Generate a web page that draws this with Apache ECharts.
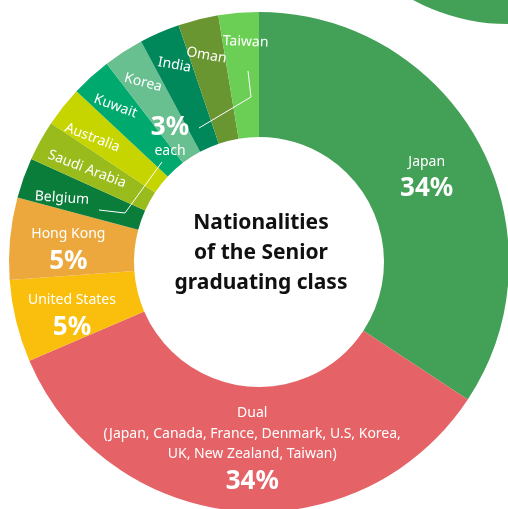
<!DOCTYPE html>
<html>
<head>
<meta charset="utf-8">
<script src="https://cdn.jsdelivr.net/npm/echarts@6/dist/echarts.min.js"></script>
<style>
  html, body { margin: 0; padding: 0; background: #fff; }
  #chart { width: 508px; height: 509px; }
</style>
</head>
<body>
<div id="chart"></div>
<script>
// Data (share of class, %; clockwise from 12 o'clock)
const categories = ['Japan', 'Dual', 'United States', 'Hong Kong', 'Belgium', 'Saudi Arabia',
                    'Australia', 'Kuwait', 'Korea', 'India', 'Oman', 'Taiwan'];
const shares = [34.2, 34.2, 5.3, 5.3, 2.6, 2.6, 2.6, 2.6, 2.6, 2.6, 2.6, 2.6];
const shareLabels = ['34%', '34%', '5%', '5%', '3%', '3%', '3%', '3%', '3%', '3%', '3%', '3%'];
const colors = ['#43a057', '#e56266', '#f9bf0c', '#eca83c', '#0b7d3b', '#99bb1c',
                '#c6d500', '#00a96e', '#68bf90', '#00875a', '#6a9632', '#6ccf55'];
const dualDetail = ['(Japan, Canada, France, Denmark, U.S, Korea,', 'UK, New Zealand, Taiwan)'];
const smallRotate = { 'Belgium': -4, 'Saudi Arabia': -21, 'Australia': -21, 'Kuwait': -20,
                      'Korea': -15, 'India': -10, 'Oman': -10, 'Taiwan': -2 };
const titleLines = ['Nationalities', 'of the Senior', 'graduating class'];

// label nudges (styling only)
const labelNudge = { 'Japan': [0, 7], 'Dual': [10, -1], 'United States': [-2, 10], 'Hong Kong': [-1, 7],
                     'Belgium': [6, 8], 'Saudi Arabia': [19, 5], 'Australia': [5, 8],
                     'Kuwait': [2, 3], 'Korea': [1, 1], 'India': [1, 0], 'Oman': [0, 2], 'Taiwan': [4, -6] };

const FONT = 'Noto Sans';
const chart = echarts.init(document.getElementById('chart'), null, { renderer: 'canvas' });

const bigData = categories.map((c, i) => {
  const big = shareLabels[i] !== '3%';
  let fmt = '';
  if (big) {
    fmt = '{n|' + c + '}\n';
    if (c === 'Dual') fmt += dualDetail.map(s => '{n|' + s + '}').join('\n') + '\n';
    fmt += '{p|' + shareLabels[i] + '}';
  }
  return {
    name: c, value: shares[i],
    itemStyle: { color: colors[i] },
    label: { show: big, formatter: fmt, offset: labelNudge[c] || [0, 0] }
  };
});

const smallData = categories.map((c, i) => {
  const small = shareLabels[i] === '3%';
  return {
    name: c, value: shares[i],
    itemStyle: { color: 'rgba(0,0,0,0)' },
    label: { show: small, rotate: smallRotate[c] || 0, offset: labelNudge[c] || [0, 0] }
  };
});

chart.setOption({
  animation: false,
  graphic: [
    { type: 'circle', shape: { cx: 508, cy: -176, r: 200 }, style: { fill: '#43a057' }, z: 0 },
    { type: 'text', x: 261, y: 253, z: 10,
      style: { text: titleLines.join('\n'), font: 'bold 21px "' + FONT + '"', fill: '#111',
               textAlign: 'center', textVerticalAlign: 'middle', lineHeight: 30 } },
    { type: 'text', x: 170, y: 128, z: 10,
      style: { text: '3%', font: 'bold 26px "' + FONT + '"', fill: '#fff',
               textAlign: 'center', textVerticalAlign: 'middle' } },
    { type: 'text', x: 170, y: 151, z: 10,
      style: { text: 'each', font: '14px "' + FONT + '"', fill: '#fff',
               textAlign: 'center', textVerticalAlign: 'middle' } },
    { type: 'polyline', z: 10, shape: { points: [[199, 128], [251, 97], [248, 71]] },
      style: { stroke: '#fff', lineWidth: 1, fill: null } },
    { type: 'polyline', z: 10, shape: { points: [[162, 162], [125, 213], [99, 210]] },
      style: { stroke: '#fff', lineWidth: 1, fill: null } }
  ],
  series: [
    {
      type: 'pie', center: [259, 262], radius: [125, 250],
      startAngle: 90, clockwise: true, avoidLabelOverlap: false, silent: true,
      itemStyle: { borderWidth: 0 },
      labelLine: { show: false },
      labelLayout: { hideOverlap: false },
      label: {
        position: 'inside', color: '#fff', fontFamily: FONT,
        rich: {
          n: { fontSize: 14, color: '#fff', fontFamily: FONT, lineHeight: 20.5 },
          p: { fontSize: 26, fontWeight: 'bold', color: '#fff', fontFamily: FONT, lineHeight: 34 }
        }
      },
      data: bigData, z: 2
    },
    {
      type: 'pie', center: [259, 262], radius: [174, 250],
      startAngle: 90, clockwise: true, avoidLabelOverlap: false, silent: true,
      labelLine: { show: false },
      labelLayout: { hideOverlap: false },
      label: { position: 'inside', color: '#fff', fontFamily: FONT, fontSize: 14,
               formatter: '{b}' },
      data: smallData, z: 3
    }
  ]
});
</script>
</body>
</html>
